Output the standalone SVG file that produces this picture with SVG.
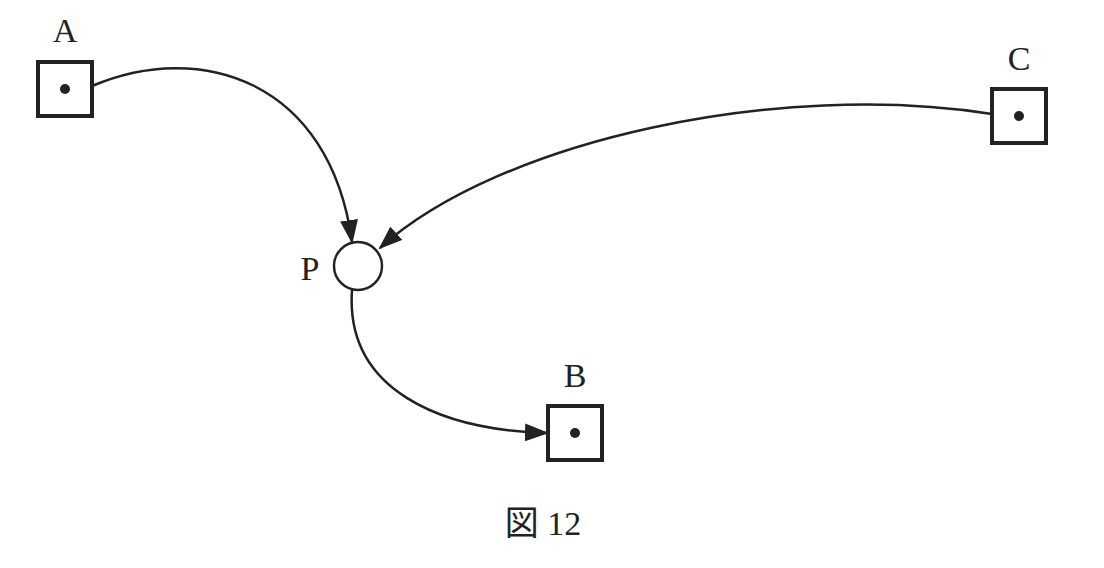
<svg xmlns="http://www.w3.org/2000/svg" width="1104" height="568" viewBox="0 0 1104 568">
<style>
.box{fill:#fff;stroke:#222;stroke-width:4}
.dot{fill:#222}
.lbl{font-family:"Liberation Serif","Noto Sans CJK JP",serif;font-size:34px;fill:#222;text-anchor:middle}
.edge{fill:none;stroke:#222;stroke-width:2.5}
</style>
<defs><marker id="ah" markerWidth="12" markerHeight="10" refX="11" refY="5" orient="auto" markerUnits="userSpaceOnUse" viewBox="0 0 12 10"><path d="M0,0L12,5L0,10z" fill="#222"/></marker>
<marker id="ah2" markerWidth="24" markerHeight="18" refX="22" refY="9" orient="auto" markerUnits="userSpaceOnUse" viewBox="0 0 24 18"><path d="M0,0L24,9L0,18z" fill="#222"/></marker></defs>
<rect width="1104" height="568" fill="#fff"/>
<g id="connectors">
<path class="edge" d="M92,86 C200,40 330,80 352,242" marker-end="url(#ah2)"/>
<path class="edge" d="M992,114 C780,80 500,140 380,248" marker-end="url(#ah2)"/>
<path class="edge" d="M352,290 C345,390 440,430 547,433" marker-end="url(#ah2)"/>
</g>
<g id="A"><rect class="box" x="38" y="62" width="54" height="54"/><circle class="dot" cx="65" cy="89" r="5"/><text class="lbl" x="65" y="42">A</text></g>
<g id="C"><rect class="box" x="992" y="89" width="54" height="54"/><circle class="dot" cx="1019" cy="116" r="5"/><text class="lbl" x="1019" y="70">C</text></g>
<g id="B"><rect class="box" x="548" y="406" width="54" height="54"/><circle class="dot" cx="575" cy="433" r="5"/><text class="lbl" x="575" y="387">B</text></g>
<g id="P"><circle cx="358" cy="266" r="24" fill="#fff" stroke="#222" stroke-width="2.5"/><text class="lbl" x="310" y="280">P</text></g>
<text class="lbl" x="543" y="535">図 12</text>
</svg>
